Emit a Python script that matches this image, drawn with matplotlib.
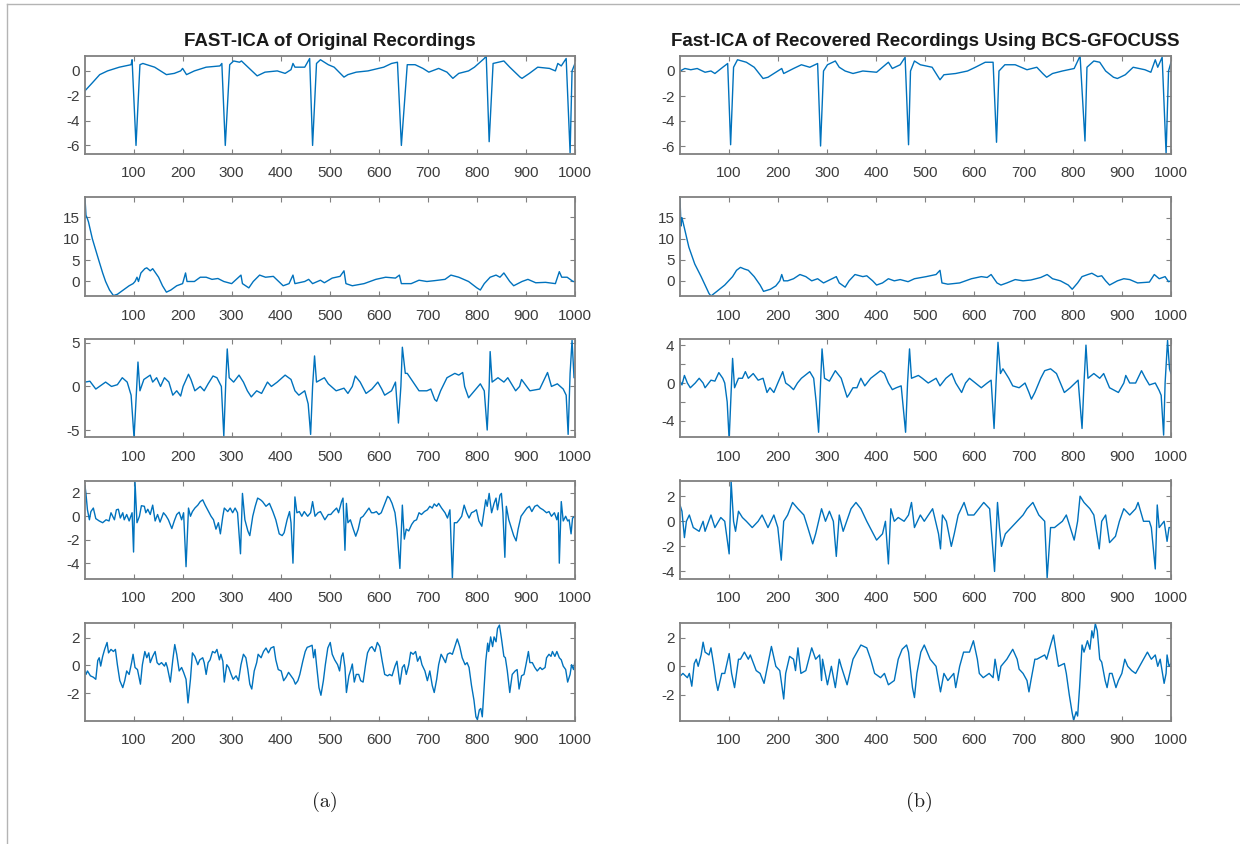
import matplotlib
matplotlib.use('Agg')
import matplotlib.pyplot as plt
from matplotlib.lines import Line2D

plt.rcParams['font.family'] = ['Liberation Sans', 'DejaVu Sans']
plt.rcParams['axes.unicode_minus'] = False

# sample index / amplitude, one pair per panel
# left column: FAST-ICA of original recordings
l1_n = [1, 15, 31, 47, 71, 95, 97, 105, 113, 119, 143, 167, 183, 196, 200, 208, 224, 248, 276, 280,
        287, 296, 304, 316, 320, 336, 352, 368, 393, 409, 421, 425, 429, 449, 459, 465, 473, 481, 497,
        509, 529, 537, 554, 578, 610, 626, 638, 646, 658, 674, 690, 702, 722, 739, 751, 763, 783, 795,
        815, 819, 825, 833, 855, 867, 888, 892, 907, 924, 948, 960, 965, 972, 982, 990, 994, 1000]
l1_v = [-1.6, -1.0, -0.3, 0.0, 0.3, 0.5, 0.9, -6.0, 0.5, 0.6, 0.3, -0.3, -0.2, 0.0, 0.2, -0.3, 0.0,
        0.3, 0.4, 0.6, -6.0, 0.5, 0.8, 0.7, 0.8, 0.2, -0.4, -0.1, 0.0, -0.2, 0.1, 0.6, 0.3, 0.3, 1.0,
        -6.0, 0.6, 0.9, 0.5, 0.3, -0.5, -0.3, -0.1, 0.0, 0.3, 0.6, 0.7, -6.0, 0.5, 0.5, 0.2, -0.1, 0.2,
        -0.1, -0.6, -0.2, 0.0, 0.3, 1.0, 1.2, -5.7, 0.6, 0.8, 0.3, -0.5, -0.6, -0.2, 0.3, 0.2, 0.0, 0.6,
        0.4, 1.0, -6.6, 0.0, 0.6]

l2_n = [1, 3, 5, 8, 16, 29, 37, 43, 51, 59, 67, 79, 91, 99, 103, 107, 110, 115, 123, 127, 134, 139,
        151, 159, 167, 176, 188, 200, 206, 209, 224, 236, 248, 260, 272, 284, 300, 319, 322, 335, 344,
        357, 369, 385, 405, 417, 425, 429, 449, 457, 465, 481, 489, 505, 521, 529, 533, 546, 570, 594,
        614, 634, 642, 646, 666, 682, 698, 714, 735, 747, 763, 783, 800, 807, 815, 827, 839, 847, 855,
        867, 875, 892, 904, 920, 940, 960, 968, 973, 984, 996, 1000]
l2_v = [19.5, 15.5, 15, 14, 10, 5, 2, 0, -2, -3.3, -3, -2, -1, -0.5, 0, 1, 0, 2, 3, 3.2, 2.5, 3, 1,
        -1, -2.5, -2, -1, -0.5, 2, 0, 0, 1, 1, 0.5, 0.7, 0, -0.5, 1.5, -0.5, -1.5, 0, 1.5, 1, 1.2, -1,
        -0.5, 1.5, -0.5, 0, 0.5, -0.5, 0.3, -0.3, 0.8, 1.2, 2.5, -0.5, -1, -0.5, 0.5, 1.0, 0.8, 1.5,
        -0.5, -0.5, 0.3, 0, 0.2, 0.5, 1.5, 1.0, 0, -1.5, -2, -0.5, 1, 1.5, 1, 2, 0, -1, 0, 0.5, -0.3,
        -0.2, -0.5, 2.3, 1, 1, 0, 0]

l3_n = [1, 11, 23, 43, 55, 67, 77, 87, 95, 101, 106, 109, 113, 121, 134, 139, 147, 155, 163, 172,
        180, 188, 196, 201, 212, 217, 225, 236, 244, 252, 262, 270, 279, 284, 288, 291, 295, 304, 315,
        324, 332, 340, 351, 361, 373, 381, 393, 409, 421, 429, 437, 449, 456, 461, 465, 469, 473, 489,
        497, 513, 529, 537, 546, 552, 562, 574, 586, 598, 606, 612, 626, 634, 640, 645, 648, 654, 658,
        670, 682, 698, 706, 714, 718, 726, 739, 755, 763, 771, 775, 783, 795, 807, 815, 821, 825, 827,
        831, 843, 855, 863, 879, 887, 891, 908, 928, 944, 952, 964, 976, 982, 986, 990, 994, 998, 1000]
l3_v = [0.5, 0.6, -0.3, 0.5, 0, 0.2, 1.0, 0.5, -1, -5.9, -0.5, 2.8, -0.5, 0.8, 1.3, 0.5, 1.0, 0, 1,
        0.5, -1, -0.5, -1.1, 0, 1.4, 0.8, -0.5, 0, -0.5, 0.3, 1.2, 1.0, 0, -5.7, 0.5, 4.3, 1.0, 0.5,
        1.3, 0.5, -0.5, -1.2, -0.5, -0.8, 0.5, 0, 0.5, 1.3, 0.8, -0.5, -1, -0.5, -2, -5.5, 0, 3.5, 0.5,
        1.0, 0.3, -0.5, -0.2, -0.8, 0, 1.2, 0.5, -0.8, -0.3, 0.5, -0.3, -1.0, -0.5, 0.5, -4.2, 0, 4.5,
        1.5, 1.5, 0.5, -0.5, -0.5, -0.3, -1.5, -1.7, -0.5, 1.0, 1.5, 1.3, 1.6, 0, -1.3, -0.5, 0.3, -0.5,
        -5.0, 0, 4.0, 0.5, 1.0, 0.5, 1, -0.5, 0, 0.8, -0.5, -0.3, 1.6, 0, 0.3, -0.3, -1, -5.5, 1.5, 5.3,
        1.0, 1.0]

l4_n = [1, 3, 6, 10, 13, 18, 23, 30, 37, 44, 50, 54, 61, 65, 69, 73, 78, 81, 86, 91, 97, 100, 103,
        107, 112, 116, 122, 125, 129, 134, 139, 144, 149, 154, 161, 166, 171, 178, 183, 188, 193, 198,
        202, 207, 212, 216, 220, 225, 231, 236, 241, 246, 251, 258, 263, 268, 273, 277, 282, 285, 292,
        297, 302, 307, 312, 318, 322, 327, 333, 337, 343, 348, 353, 359, 363, 370, 377, 384, 390, 397,
        403, 407, 413, 418, 421, 425, 429, 433, 438, 443, 448, 455, 461, 465, 470, 476, 481, 486, 490,
        497, 502, 507, 514, 518, 524, 527, 531, 534, 537, 542, 548, 553, 558, 563, 568, 575, 580, 585,
        590, 595, 600, 605, 611, 618, 622, 627, 633, 637, 643, 648, 652, 656, 661, 667, 672, 677, 682,
        687, 693, 699, 704, 709, 713, 718, 722, 728, 735, 740, 745, 750, 754, 759, 764, 769, 774, 779,
        784, 789, 794, 799, 804, 810, 813, 818, 821, 825, 830, 835, 839, 842, 847, 850, 853, 857, 860,
        865, 869, 875, 880, 884, 890, 897, 902, 907, 912, 918, 923, 929, 935, 942, 947, 952, 958, 963,
        966, 968, 972, 976, 981, 985, 988, 992, 995, 1000]
l4_v = [2.6, 1.9, 0.55, -0.3, 0.4, 0.7, -0.2, -0.4, -0.55, -0.3, -0.4, 0.3, -0.3, 0.55, 0.6, -0.15,
        0.3, -0.3, 0.15, -0.4, 0.3, -3.05, 2.9, -0.55, 0, 0.9, 0.85, 0.3, 0.6, 0.15, 0.95, -0.4, 0.15,
        -0.5, 0.3, 0.05, -0.3, -1.05, -0.4, 0.15, 0.35, -0.3, 0.3, -4.3, 0.7, 0, 0.4, 0.7, 0.95, 1.25,
        1.4, 0.95, 0.55, 0, -0.3, -1.1, -0.55, -1.5, 0, 0.7, 0.4, 0.7, 0.3, 0.7, 0.3, -3.2, 1.95, -0.3,
        -1.25, -1.65, 0, 0.85, 1.55, 1.4, 1.25, 0.85, 1.1, 0.4, -0.3, -1.5, -1.65, -1.4, -0.3, 0.4,
        -0.55, -4.0, 1.65, 0.3, 0.4, 0, 0.4, 0, 0.3, 1.25, 0, 0.3, 0.4, 0, -0.3, 0.15, 0.15, 0.4, 0.7,
        0.3, 1.25, 1.55, -2.9, 1.1, -0.55, -0.3, -1.1, -1.7, -1.1, -0.15, 0, 0.4, 0.7, 0.3, 0.3, 0.4,
        0.15, 0.3, 0.95, 1.7, 1.55, 1.1, 0.3, -1.1, -4.45, 0.95, -1.95, -1.1, -1.25, -0.7, -0.4, -0.3,
        0.3, 0.15, 0.4, 0.55, 0.85, 0.7, 1.05, 0.85, 1.1, 0.7, 0.3, -0.15, 0.55, -5.3, -0.55, -0.55,
        -0.3, 0, 0.95, 0.3, -0.15, 0.3, 0.4, 0.55, -0.4, -0.85, 0, 1.4, 0.85, 1.95, 0.3, 1.1, 1.55,
        0.55, 1.8, 1.95, 0.3, -3.5, 0.85, -0.3, -0.85, -1.65, -2.1, -1.1, 0, 0.4, 0.7, 0.85, 0.4, 0.85,
        0.95, 0.7, 0.55, 0.3, 0.4, 0, 0.3, -0.3, 0.3, -4.0, 1.25, -0.4, 0, -0.4, -0.3, -1.5, -0.15, 0]

l5_n = [1, 3, 6, 12, 18, 23, 27, 30, 33, 37, 41, 46, 49, 54, 59, 63, 67, 72, 78, 82, 86, 91, 96, 99,
        103, 108, 114, 118, 123, 127, 131, 134, 139, 144, 148, 152, 157, 163, 166, 169, 175, 180, 184,
        188, 193, 198, 202, 207, 211, 216, 220, 225, 231, 235, 241, 244, 248, 252, 256, 261, 266, 270,
        275, 278, 282, 285, 290, 294, 299, 303, 309, 314, 319, 324, 329, 333, 337, 341, 346, 351, 354,
        360, 365, 370, 375, 380, 386, 390, 395, 401, 406, 411, 416, 421, 426, 430, 435, 439, 445, 450,
        454, 458, 464, 467, 470, 473, 478, 482, 487, 491, 496, 501, 505, 510, 516, 520, 524, 527, 531,
        534, 539, 543, 546, 550, 554, 559, 563, 568, 573, 577, 582, 586, 592, 597, 602, 607, 612, 618,
        622, 627, 633, 637, 643, 648, 652, 656, 661, 665, 670, 675, 679, 684, 688, 694, 699, 704, 709,
        713, 718, 722, 727, 731, 736, 740, 745, 750, 755, 760, 765, 770, 776, 780, 784, 789, 794, 798,
        801, 805, 808, 811, 814, 818, 822, 824, 828, 832, 835, 839, 842, 846, 850, 855, 858, 862, 867,
        872, 878, 882, 886, 891, 896, 900, 905, 908, 913, 918, 923, 929, 933, 939, 942, 947, 951, 954,
        959, 963, 968, 972, 976, 981, 985, 990, 993, 997, 1000]
l5_v = [-0.4, -0.65, -0.4, -0.75, -0.85, -1.0, 0.35, 0.55, -0.05, 0.65, 1.15, 1.65, 0.9, 1.15, 1.0,
        1.15, 0.05, -1.1, -1.6, -1.1, -0.4, -0.65, 0.2, 0.8, -0.15, -0.3, -1.35, 0.05, 1.0, 0.55, 0.9,
        0.2, 0.65, 1.0, 0.2, 0.05, 0.2, -0.05, 0.2, -0.15, -1.2, 0.4, 1.5, 0.8, -0.4, -0.15, -0.5, -1.0,
        -2.7, -1.0, 0.9, 0.65, 0.05, 0.4, 0.55, 0.2, -0.65, 0.2, 0.4, 1.0, 0.9, 1.15, 0.4, 0.8, 0.3,
        -1.2, 0.05, -0.15, -0.65, -1.0, -0.75, -1.1, 0.05, 0.8, 0.55, -0.3, -1.35, -1.7, -0.4, 0.2, 0.8,
        0.55, 1.0, 1.25, 0.9, 1.25, 1.35, 0.4, -0.3, -0.4, -1.1, -0.85, -0.5, -0.75, -1.0, -1.35, -1.1,
        -0.65, 0.3, 1.0, 1.3, 1.35, 1.45, 0.55, 1.15, 0.05, -1.6, -2.15, -1.1, 0.05, 1.25, 1.65, 0.8,
        0.4, 0.05, -0.4, 0.65, 0.9, -0.15, -1.95, -0.75, -0.3, 0.1, -1.2, -0.65, -0.65, -1.1, -1.2,
        0.05, 0.9, 1.25, 1.35, 1.0, 1.65, 1.35, 0.3, -0.65, -0.75, -0.65, -0.75, -0.05, 0.3, -1.35,
        -0.15, 0.05, -0.65, 0.05, 0.95, 0.8, 1.0, 0.3, 0.65, 0.05, -0.4, -1.1, -0.4, -1.45, -1.95,
        -1.0, 0.05, 0.8, 0.55, 0.2, 0.8, 0.9, 0.8, 1.35, 1.9, 1.35, 0.55, 0.05, 0.2, -0.15, -1.45,
        -2.5, -3.7, -3.9, -3.2, -3.1, -3.7, -1.95, 0.3, 1.6, 1.0, 2.05, 1.35, 2.05, 1.7, 2.65, 2.9,
        1.95, 0.65, 0.55, -0.4, -1.95, -0.65, -0.4, -0.3, -1.7, -0.75, -0.65, 0.05, 1.0, 0.2, 0.2,
        -0.15, -0.4, -0.15, -0.3, -0.15, 0.55, 0.8, 0.65, 1.0, 0.65, 1.0, 0.55, 0.4, -0.05, -0.3, -1.2,
        -0.65, 0.05, -0.3, 0.3]

# right column: Fast-ICA of recovered recordings (BCS-GFOCUSS)
r1_n = [1, 11, 23, 36, 52, 64, 72, 88, 98, 104, 110, 118, 136, 152, 170, 180, 196, 208, 212, 232,
        248, 265, 281, 287, 293, 301, 317, 325, 337, 353, 373, 401, 425, 433, 449, 459, 466, 470, 478,
        490, 514, 530, 538, 562, 586, 602, 622, 638, 645, 650, 662, 683, 707, 727, 739, 747, 759, 779,
        803, 815, 825, 829, 843, 855, 867, 883, 891, 907, 923, 947, 959, 968, 973, 982, 990, 995, 1000]
r1_v = [0, 0.2, 0.1, 0.2, -0.1, 0, -0.2, 0.3, 0.6, -5.9, 0.3, 0.9, 0.7, 0.3, -0.6, -0.5, -0.1, 0.2,
        -0.2, 0.2, 0.5, 0.3, 0.6, -6.0, 0, 0.5, 0.8, 0.3, 0, -0.2, 0, -0.1, 0.7, 0.2, 0.5, 1.1, -5.9, 0,
        0.8, 0.5, 0.3, -0.7, -0.3, -0.2, 0, 0.3, 0.7, 0.7, -5.7, 0, 0.5, 0.5, 0.1, 0.3, -0.2, -0.5,
        -0.2, 0, 0.2, 1.2, -5.6, 0.3, 0.8, 0.7, 0, -0.5, -0.6, -0.3, 0.3, 0.1, -0.1, 0.9, 0.3, 1.1,
        -6.6, 0, 0.7]

r2_n = [1, 3, 5, 11, 19, 31, 44, 52, 60, 64, 76, 92, 100, 108, 116, 124, 132, 140, 152, 164, 171,
        185, 196, 204, 208, 212, 220, 232, 245, 257, 269, 281, 293, 319, 325, 337, 345, 357, 373, 381,
        393, 401, 413, 425, 437, 449, 465, 478, 502, 522, 530, 534, 546, 570, 594, 614, 626, 634, 646,
        654, 666, 683, 699, 715, 735, 748, 759, 775, 791, 799, 810, 819, 831, 839, 851, 859, 867, 875,
        891, 904, 916, 932, 956, 966, 976, 988, 995, 1000]
r2_v = [19.5, 13, 15, 12, 8, 4, 1, -1, -3, -3.6, -2.5, -1, 0, 1, 2.5, 3.2, 2.8, 2.5, 1, -1, -2.5, -2,
        -1.2, 0, 1.5, 0, 0, 0.5, 1.5, 1.0, 0, 0.5, -0.5, 1.0, -0.5, -1.5, 0, 1.5, 1.0, 1.2, 0, -1.0,
        -0.5, 0.5, 0, 0.3, -0.2, 0.5, 1.0, 1.5, 2.5, -0.5, -0.8, -0.5, 0.5, 1.0, 0.8, 1.5, -0.5, -1,
        -0.5, 0.3, 0, 0.2, 0.8, 1.5, 0.5, 0, -1, -2, -0.5, 1.0, 1.5, 1.8, 1.0, 1.2, 0, -1, 0, 0.5, 0.3,
        -0.5, -0.3, 1.5, 0.5, 1.0, -0.2, 0]

r3_n = [1, 5, 10, 16, 22, 32, 40, 48, 52, 64, 72, 80, 88, 92, 97, 101, 105, 108, 112, 120, 128, 134,
        140, 150, 160, 170, 178, 184, 192, 200, 210, 216, 224, 232, 240, 248, 265, 273, 278, 283, 287,
        290, 295, 305, 317, 329, 341, 345, 353, 361, 369, 377, 389, 409, 417, 425, 433, 441, 451, 460,
        464, 468, 472, 486, 494, 506, 522, 530, 542, 554, 562, 574, 582, 590, 602, 614, 626, 634, 640,
        644, 648, 653, 658, 670, 678, 691, 703, 711, 716, 723, 735, 743, 755, 767, 775, 783, 795, 811,
        819, 823, 827, 831, 843, 855, 863, 875, 893, 904, 908, 916, 928, 940, 948, 956, 968, 976, 980,
        985, 988, 993, 997, 1000]
r3_v = [0.2, -0.2, 0.8, 0, -0.5, 0, 0.5, 0, -0.5, 0.3, 0.2, 1.1, 0.5, 0, -2, -6, -1, 2.6, -0.5, 0.5,
        0.5, 1.2, 0.5, 1.0, 0.3, 0.5, -1.0, -0.5, -1.0, 0, 1.2, 0, -0.3, -0.7, 0, 0.5, 1.2, 0.5, -2,
        -5.2, 0, 3.6, 0.5, 0.2, 1.3, 0.5, -1.5, -1.2, -0.5, -0.5, 0.5, -0.3, 0.5, 1.3, 1.0, 0, -0.7,
        -0.5, -0.3, -5.2, 0, 3.6, 0.5, 0.8, 0.5, 0, 0.5, -0.3, 0.5, 1.0, 0, -1.0, 0, 0.5, 0, -0.5, 0,
        0.3, -4.8, 0, 4.3, 1.0, 1.5, 0.5, -0.3, -0.5, 0, -1.0, -1.7, -1.0, 0.5, 1.3, 1.5, 1.0, 0, -1.0,
        -0.5, 0.3, -4.8, 0, 4.0, 0.5, 1.0, 0.5, 1, -0.5, -1.0, 0, 0.8, 0, 0, 1.3, 0.5, -0.2, 0, -0.8,
        -1.3, -5.5, 0, 4.5, 1.5, 1.0]

r4_n = [1, 5, 10, 14, 20, 28, 40, 48, 52, 64, 72, 84, 92, 101, 105, 110, 114, 120, 128, 136, 148,
        160, 168, 180, 192, 200, 207, 212, 220, 230, 241, 253, 261, 271, 277, 289, 297, 305, 313, 319,
        325, 333, 349, 359, 369, 381, 401, 413, 419, 425, 430, 437, 445, 457, 466, 472, 478, 490, 498,
        515, 527, 531, 535, 543, 553, 559, 567, 579, 587, 599, 619, 631, 635, 641, 647, 651, 655, 663,
        675, 687, 699, 707, 719, 731, 743, 748, 755, 763, 779, 787, 803, 810, 815, 823, 835, 843, 854,
        859, 867, 875, 887, 895, 904, 916, 928, 933, 944, 956, 960, 968, 972, 976, 986, 992, 996, 1000]
r4_v = [1.3, 0.8, -1.3, 0, 0.5, -0.5, -0.8, 0, -0.8, 0.5, -0.5, 0.3, 0, -2.6, 3.2, 0, -0.8, 0.8, 0.3,
        0, -0.5, 0, 0.5, -0.5, 0.5, -0.5, -3.1, 0, 0.5, 1.5, 1.0, 0.5, -0.5, -1.8, -1.0, 1.0, 0, 0.8,
        0, -2.8, 0.5, -0.8, 1.0, 1.5, 1.0, 0, -1.5, -1.0, 0, -3.4, 1.0, 0, 0.3, 0, 0.5, 1.5, -0.5, 0.5,
        0, 1.0, -1, -2.2, 0.5, 0, -2.0, -1.0, 0.5, 1.5, 0.5, 0.5, 1.5, 1.0, -1.0, -4.0, 1.5, -0.5,
        -2.0, -1, -0.5, 0, 0.5, 1.0, 1.5, 0.5, 0, -4.5, -0.5, -0.5, 0, 0.5, -1.5, 0, 2.0, 1.5, 1.0, 0.5,
        -2.2, 0, 0.5, -1.7, -1.2, 0, 1.0, 0.5, 1.0, 1.5, 0, 0, -0.5, -3.8, 1.3, -0.5, 0, -1.6, -0.5,
        -0.5]

r5_n = [1, 7, 16, 20, 25, 30, 34, 38, 44, 48, 52, 60, 64, 70, 74, 78, 86, 92, 101, 106, 112, 120,
        124, 132, 140, 144, 156, 164, 172, 187, 196, 204, 212, 216, 224, 232, 236, 241, 247, 257, 269,
        277, 285, 289, 291, 301, 309, 317, 325, 329, 341, 353, 361, 369, 381, 389, 397, 409, 417, 425,
        437, 445, 453, 462, 466, 474, 478, 483, 491, 498, 510, 522, 531, 538, 546, 558, 562, 570, 578,
        590, 598, 606, 610, 618, 630, 638, 642, 649, 654, 666, 678, 687, 691, 699, 707, 711, 715, 723,
        727, 743, 747, 755, 761, 764, 771, 783, 787, 793, 799, 802, 807, 810, 814, 819, 823, 830, 835,
        839, 842, 846, 850, 855, 859, 866, 870, 875, 880, 888, 893, 900, 906, 912, 920, 928, 936, 944,
        952, 960, 968, 973, 978, 986, 990, 992, 996, 1000]
r5_v = [-0.7, -0.5, -0.8, -0.5, -1.4, 0.2, 0.5, 0, 0.8, 1.7, 1.0, 0.8, 1.3, 0, -1.0, -1.7, -0.5,
        -0.5, 0.9, -0.5, -1.5, 0.5, 0.5, 1.0, 0.5, 0.8, -0.3, -0.5, -1.2, 1.4, 0, -0.3, -2.3, -0.5, 0.7,
        0.5, -0.3, 1.3, -0.5, -0.3, 1.3, 0.5, 0.8, -1.0, 0.5, -1.3, 0, -1.5, 0.5, 0, -1.3, 0.5, 1.0,
        1.5, 1.3, 0.5, -0.5, -0.8, -0.5, -1.3, -1.0, 0.5, 1.2, 1.5, 1.0, -1.5, -2.2, -0.5, 1.0, 1.5,
        0.5, 0, -1.8, -0.5, -1.0, -0.5, -1.5, 0, 1.0, 1.0, 1.8, 0.5, -0.5, -0.8, -0.5, -0.8, 0.5, -1.0,
        0, 0.5, 1.2, 0.5, -0.2, -0.5, -1.0, -1.8, -1.0, 0.5, 0.5, 0.8, 0.5, 1.5, 2.2, 1.5, 0, 0.2,
        -0.5, -2.0, -3.3, -3.8, -3.2, -3.5, -1.5, 1.5, 1.0, 1.8, 1.2, 2.5, 2.0, 3.0, 2.5, 0.5, 0.3,
        -1.0, -1.5, -0.5, -0.5, -1.5, -1.0, -0.5, 0.5, 0, -0.3, -0.5, 0, 0.5, 1.0, 0.5, 0.8, 0, 0.5,
        -1.2, -0.5, 0.8, 0, 0.2]

x_ticks = [100, 200, 300, 400, 500, 600, 700, 800, 900, 1000]
titles = ['FAST-ICA of Original Recordings', 'Fast-ICA of Recovered Recordings Using BCS-GFOCUSS']
captions = ['(a)', '(b)']

left = [(l1_n, l1_v, (-6.65, 1.2), [-6, -4, -2, 0], None),
        (l2_n, l2_v, (-3.4, 19.8), [0, 5, 10, 15], None),
        (l3_n, l3_v, (-5.8, 5.5), [-5, 0, 5], None),
        (l4_n, l4_v, (-5.35, 3.05), [-4, -2, 0, 2], None),
        (l5_n, l5_v, (-4.0, 3.05), [-2, 0, 2], None)]
right = [(r1_n, r1_v, (-6.6, 1.2), [-6, -4, -2, 0], None),
         (r2_n, r2_v, (-3.6, 19.9), [0, 5, 10, 15], None),
         (r3_n, r3_v, (-5.7, 4.7), [-4, -2, 0, 2, 4], ['-4', '', '0', '', '4']),
         (r4_n, r4_v, (-4.6, 3.25), [-4, -2, 0, 2], None),
         (r5_n, r5_v, (-3.85, 3.05), [-2, 0, 2], None)]

W, H = 1240, 844
fig = plt.figure(figsize=(W / 100, H / 100), dpi=100)

rows_px = [(56, 153.5), (197, 296), (338.5, 437), (480.5, 579), (623, 721)]
cols_px = [(85, 575), (680, 1171)]
blue = '#0072BD'

for c, panels in enumerate([left, right]):
    x0, x1 = cols_px[c]
    for r, (n, v, ylim, yt, ylab) in enumerate(panels):
        t, b = rows_px[r]
        ax = fig.add_axes([x0 / W, 1 - b / H, (x1 - x0) / W, (b - t) / H])
        ax.plot(n, v, color=blue, lw=1.0)
        ax.set_xlim(1, 1000)
        ax.set_ylim(*ylim)
        ax.set_xticks(x_ticks)
        ax.set_yticks(yt)
        if ylab is not None:
            ax.set_yticklabels(ylab)
        ax.tick_params(direction='in', top=True, right=True, length=3.5, width=0.8,
                       colors='#808080', labelcolor='#3c3c3c', labelsize=11)
        ax.tick_params(axis='x', pad=9)
        ax.tick_params(axis='y', pad=4)
        for s in ax.spines.values():
            s.set_color('#808080')
            s.set_linewidth(1.3)
        if r == 0:
            ax.set_title(titles[c], fontsize=13.5, fontweight='bold', color='#1a1a1a', pad=7)
    fig.text((x0 + x1) / 2 / W - 0.0045, 1 - 802 / H, captions[c], fontfamily='cmr10',
             fontsize=14.5, ha='center', va='center', color='#202020')

# light frame at top and left edge of the page
fig.add_artist(Line2D([6.7 / W, 6.7 / W], [0, 1 - 4 / H], color='#b4b4b4', lw=1.0))
fig.add_artist(Line2D([6.7 / W, 1], [1 - 4 / H, 1 - 4 / H], color='#b4b4b4', lw=1.0))

fig.savefig('out.png', dpi=100)
